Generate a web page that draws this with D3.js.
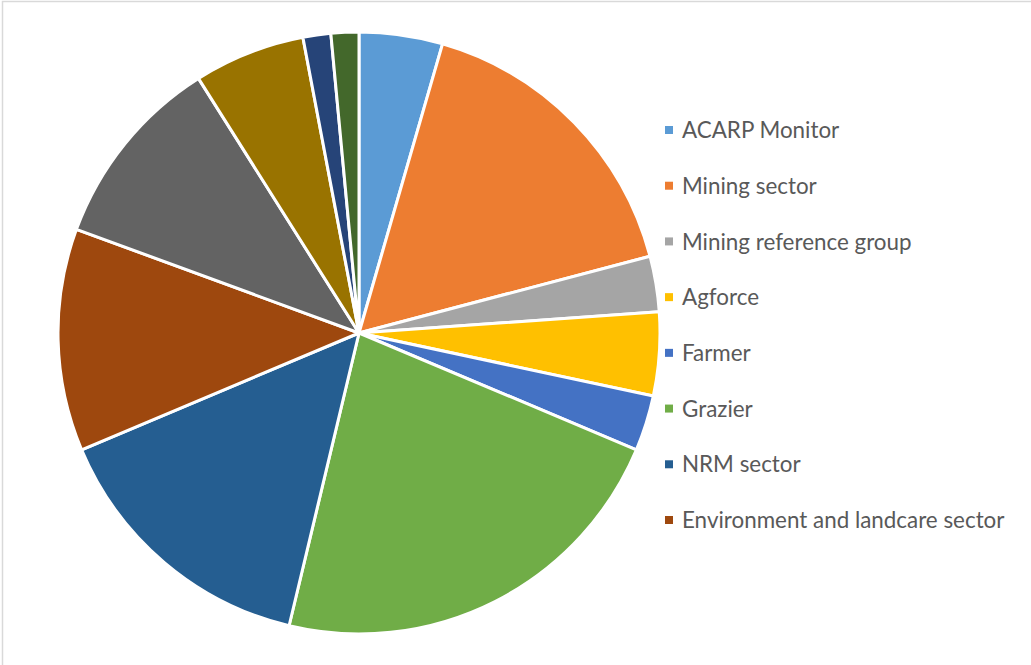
<!DOCTYPE html>
<html>
<head>
<meta charset="utf-8">
<script src="https://cdn.jsdelivr.net/npm/d3@7"></script>
<style>
  html, body { margin: 0; padding: 0; background: #fff; }
  svg { display: block; }
</style>
</head>
<body>
<svg id="chart" width="1031" height="665"></svg>
<script>
// Respondent groups (responses counted per group)
const categories = [
  "ACARP Monitor", "Mining sector", "Mining reference group", "Agforce",
  "Farmer", "Grazier", "NRM sector", "Environment and landcare sector",
  "Government", "Researcher", "Consultant", "Other"
];
const counts = [3, 11, 2, 3, 2, 15, 10, 8, 7, 4, 1, 1];
const colors = [
  "#5B9BD5", "#ED7D31", "#A5A5A5", "#FFC000", "#4472C4", "#70AD47",
  "#255E91", "#9E480E", "#636363", "#997300", "#264478", "#43682B"
];
// Only the first eight groups fit in the legend box
const legendCount = 8;

const svg = d3.select("#chart");
const W = 1031, H = 665;

// chart-area frame
svg.append("rect")
  .attr("x", 2.5).attr("y", 1.5)
  .attr("width", W + 10).attr("height", H + 10)
  .attr("fill", "#fff")
  .attr("stroke", "#d9d9d9").attr("stroke-width", 1.5);

const data = categories.map((c, i) => ({ name: c, value: counts[i], color: colors[i] }));

const cx = 359, cy = 333, radius = 301;

const pie = d3.pie().value(d => d.value).sort(null);
const arc = d3.arc().innerRadius(0).outerRadius(radius);

const g = svg.append("g").attr("transform", `translate(${cx},${cy})`);
g.selectAll("path")
  .data(pie(data))
  .join("path")
  .attr("d", arc)
  .attr("fill", d => d.data.color)
  .attr("stroke", "#fff")
  .attr("stroke-width", 3)
  .attr("stroke-linejoin", "round");

// legend
const legendY = d3.scalePoint()
  .domain(categories.slice(0, legendCount))
  .range([130, 520]);

const lg = svg.append("g");
const items = lg.selectAll("g")
  .data(data.slice(0, legendCount))
  .join("g")
  .attr("transform", d => `translate(665,${legendY(d.name)})`);

items.append("rect")
  .attr("x", 0).attr("y", -4)
  .attr("width", 8).attr("height", 8)
  .attr("fill", d => d.color);

items.append("text")
  .attr("x", 17).attr("y", 0)
  .attr("dy", "0.36em")
  .attr("fill", "#595959")
  .style("font-family", "Lato, 'Open Sans', sans-serif")
  .style("font-size", "22.4px")
  .text(d => d.name);
</script>
</body>
</html>
